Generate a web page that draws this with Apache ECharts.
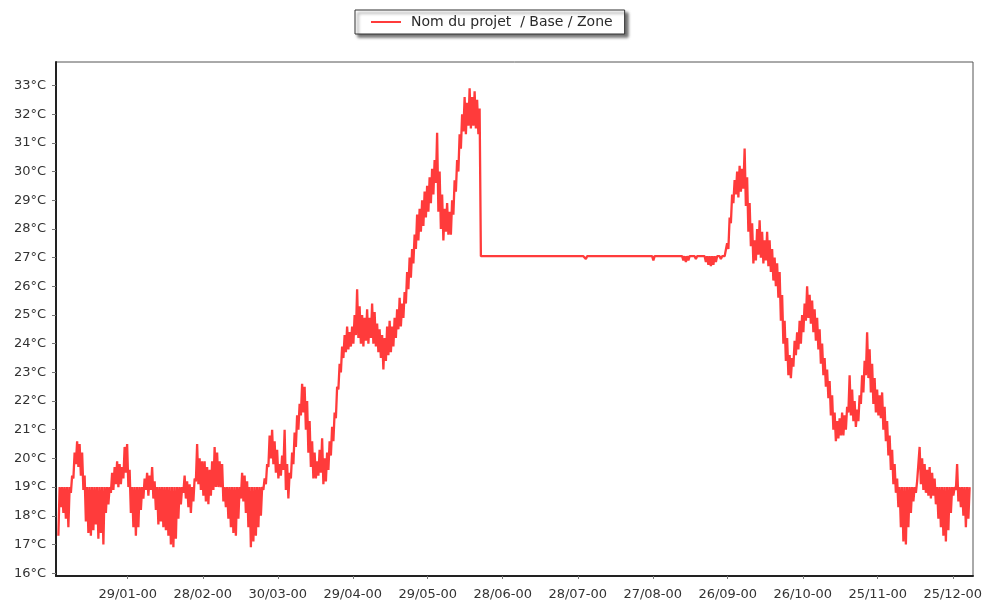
<!DOCTYPE html>
<html>
<head>
<meta charset="utf-8">
<script src="https://cdn.jsdelivr.net/npm/echarts@6/dist/echarts.min.js"></script>
<style>
  html, body { margin: 0; padding: 0; background: #ffffff; }
  #chart { width: 989px; height: 605px; }
</style>
</head>
<body>
<div id="chart"></div>
<script>
// Series name shown in the legend
const seriesName = 'Nom du projet  / Base / Zone';

// Day-of-year positions of the date ticks and their labels
const tickDays = [28, 58, 88, 118, 148, 178, 208, 238, 268, 298, 328, 358];
const tickLabels = ['29/01-00', '28/02-00', '30/03-00', '29/04-00', '29/05-00', '28/06-00',
                    '28/07-00', '27/08-00', '26/09-00', '26/10-00', '25/11-00', '25/12-00'];

// Temperature ticks (°C)
const tempTicks = [16, 17, 18, 19, 20, 21, 22, 23, 24, 25, 26, 27, 28, 29, 30, 31, 32, 33];

// Daily maximum temperature (°C), day 0 = 1 January
const dailyHigh = [
  19.0,19.0,19.0,19.0,19.0,19.4,20.2,20.6,20.5,20.2,   // 0-9
  19.4,19.0,19.0,19.0,19.0,19.0,19.0,19.0,19.0,19.0,   // 10-19
  19.0,19.5,19.7,19.9,19.8,19.7,20.4,20.5,19.6,19.0,   // 20-29
  19.0,19.0,19.0,19.0,19.3,19.5,19.4,19.7,19.2,19.0,   // 30-39
  19.0,19.0,19.0,19.0,19.0,19.0,19.0,19.0,19.0,19.0,   // 40-49
  19.4,19.2,19.1,19.0,19.3,20.5,20.0,19.9,19.9,19.7,   // 50-59
  19.6,19.9,20.4,20.2,19.9,19.8,19.0,19.0,19.0,19.0,   // 60-69
  19.0,19.0,19.0,19.5,19.4,19.2,19.0,19.0,19.0,19.0,   // 70-79
  19.0,19.0,19.3,19.8,20.8,21.0,20.6,20.3,19.8,20.1,   // 80-89
  21.0,19.8,19.5,20.2,20.9,21.5,21.9,22.6,22.5,22.0,   // 90-99
  21.3,20.6,20.2,19.9,20.3,20.7,20.0,20.2,20.6,21.1,   // 100-109
  21.6,22.5,23.3,23.9,24.3,24.6,24.4,24.6,25.0,25.9,   // 110-119
  25.3,25.0,24.9,25.2,24.9,25.4,25.1,24.7,24.5,24.3,   // 120-129
  24.2,24.6,24.8,24.6,24.9,25.2,25.6,25.4,25.8,26.5,   // 130-139
  27.0,27.3,27.8,28.5,28.7,29.0,29.3,29.5,29.8,30.1,   // 140-149
  30.4,31.35,30.0,29.2,28.7,28.9,28.6,29.0,29.7,30.4,  // 150-159
  31.3,32.0,32.6,32.4,32.9,32.6,32.8,32.5,32.2,27.05,  // 160-169
  27.05,27.05,27.05,27.05,27.05,27.05,27.05,27.05,27.05,27.05, // 170-179
  27.05,27.05,27.05,27.05,27.05,27.05,27.05,27.05,27.05,27.05, // 180-189
  27.05,27.05,27.05,27.05,27.05,27.05,27.05,27.05,27.05,27.05, // 190-199
  27.05,27.05,27.05,27.05,27.05,27.05,27.05,27.05,27.05,27.05, // 200-209
  27.05,27.05,27.05,27.05,27.05,27.05,27.05,27.05,27.05,27.05, // 210-219
  27.05,27.05,27.05,27.05,27.05,27.05,27.05,27.05,27.05,27.05, // 220-229
  27.05,27.05,27.05,27.05,27.05,27.05,27.05,27.05,27.05,27.05, // 230-239
  27.05,27.05,27.05,27.05,27.05,27.05,27.05,27.05,27.05,27.05, // 240-249
  27.05,27.05,27.05,27.05,27.05,27.05,27.05,27.05,27.05,27.05, // 250-259
  27.05,27.05,27.05,27.05,27.05,27.05,27.05,27.5,28.4,29.2,    // 260-269
  29.7,30.0,30.2,30.1,30.8,29.8,28.9,28.2,27.6,28.0,   // 270-279
  28.3,27.9,27.6,27.9,27.6,27.3,27.0,26.8,26.5,25.7,   // 280-289
  24.8,24.2,23.6,23.5,24.1,24.4,24.8,25.0,25.4,26.0,   // 290-299
  25.7,25.5,25.2,24.9,24.5,24.0,23.5,23.1,22.7,22.2,   // 300-309
  21.6,21.3,21.4,21.6,21.5,21.8,22.9,22.4,22.0,21.7,   // 310-319
  22.2,22.9,23.4,24.4,23.8,23.3,22.8,22.4,22.2,22.3,   // 320-329
  21.8,21.3,20.8,20.3,19.8,19.3,19.0,19.0,19.0,19.0,   // 330-339
  19.0,19.0,19.0,19.2,20.4,20.0,19.8,19.6,19.7,19.5,   // 340-349
  19.3,19.0,19.0,19.0,19.0,19.0,19.0,19.0,19.0,19.8,   // 350-359
  19.0,19.0,19.0,19.0,19.0                              // 360-364
];

// Daily minimum temperature (°C)
const dailyLow = [
  17.3,18.3,18.1,17.9,17.6,18.8,19.3,19.8,19.7,19.4,   // 0-9
  18.9,17.8,17.4,17.3,17.5,17.7,17.2,17.4,17.0,18.1,   // 10-19
  18.4,18.8,18.9,19.1,19.0,19.1,19.3,19.5,19.0,18.1,   // 20-29
  17.6,17.3,17.6,18.2,18.6,18.9,18.7,18.9,18.6,18.2,   // 30-39
  17.7,17.8,17.6,17.5,17.3,17.0,16.9,17.2,17.9,18.4,   // 40-49
  18.8,18.6,18.3,18.1,18.5,19.2,19.1,18.9,18.7,18.5,   // 50-59
  18.4,18.7,18.9,19.0,19.0,19.0,18.5,18.3,17.9,17.6,   // 60-69
  17.4,17.3,17.9,18.6,18.5,18.1,17.6,16.9,17.1,17.3,   // 70-79
  17.6,18.0,18.9,19.1,19.7,20.0,19.8,19.5,19.3,19.4,   // 80-89
  19.6,18.9,18.6,19.3,19.8,20.4,21.0,21.5,21.6,21.0,   // 90-99
  20.2,19.7,19.3,19.3,19.4,19.5,19.1,19.2,19.6,20.1,   // 100-109
  20.6,21.4,22.4,23.0,23.5,23.7,23.8,23.9,24.0,24.3,   // 110-119
  24.2,24.0,23.9,24.1,24.0,24.2,24.0,23.9,23.7,23.5,   // 120-129
  23.1,23.4,23.6,23.7,23.9,24.2,24.5,24.6,24.9,25.4,   // 130-139
  25.9,26.3,26.8,27.3,27.6,27.9,28.1,28.4,28.6,28.9,   // 140-149
  29.2,29.6,28.6,28.0,27.6,27.9,27.8,27.8,28.5,29.3,   // 150-159
  30.0,30.8,31.4,31.3,31.6,31.5,31.6,31.5,31.3,27.05,  // 160-169
  27.05,27.05,27.05,27.05,27.05,27.05,27.05,27.05,27.05,27.05, // 170-179
  27.05,27.05,27.05,27.05,27.05,27.05,27.05,27.05,27.05,27.05, // 180-189
  27.05,27.05,27.05,27.05,27.05,27.05,27.05,27.05,27.05,27.05, // 190-199
  27.05,27.05,27.05,27.05,27.05,27.05,27.05,27.05,27.05,27.05, // 200-209
  27.05,26.95,27.05,27.05,27.05,27.05,27.05,27.05,27.05,27.05, // 210-219
  27.05,27.05,27.05,27.05,27.05,27.05,27.05,27.05,27.05,27.05, // 220-229
  27.05,27.05,27.05,27.05,27.05,27.05,27.05,27.05,26.9,27.05,  // 230-239
  27.05,27.05,27.05,27.05,27.05,27.05,27.05,27.05,27.05,27.05, // 240-249
  26.9,26.85,26.9,27.05,27.05,26.95,27.05,27.05,27.05,26.85,   // 250-259
  26.75,26.7,26.75,26.85,27.05,26.95,27.05,27.05,27.3,28.2,    // 260-269
  28.9,29.2,29.1,29.3,29.4,28.8,27.9,27.4,26.8,26.9,   // 270-279
  27.1,27.0,26.8,26.9,26.7,26.5,26.2,26.0,25.6,24.8,   // 280-289
  24.0,23.4,22.9,22.8,23.2,23.6,23.8,24.0,24.4,24.8,   // 290-299
  24.9,24.7,24.4,24.1,23.8,23.3,22.9,22.5,22.1,21.5,   // 300-309
  21.0,20.6,20.7,20.8,20.8,21.0,21.6,21.5,21.3,21.1,   // 310-319
  21.3,21.9,22.3,22.9,22.8,22.3,21.9,21.6,21.5,21.4,   // 320-329
  21.0,20.6,20.1,19.6,19.1,18.8,18.3,17.6,17.1,17.0,   // 330-339
  17.6,18.1,18.5,18.8,19.2,19.1,18.9,18.8,18.7,18.6,   // 340-349
  18.7,18.4,17.9,17.6,17.3,17.1,17.5,18.1,18.7,18.9,   // 350-359
  18.5,18.3,18.0,17.6,17.9                              // 360-364
];

// Each day contributes its low (night) then its high (afternoon)
const points = [];
for (let d = 0; d < dailyHigh.length; d++) {
  points.push([d + 0.25, dailyLow[d]]);
  points.push([d + 0.75, dailyHigh[d]]);
}

const FONT = 'DejaVu Sans';
const RED = '#ff3b3b';

const chart = echarts.init(document.getElementById('chart'), null, { renderer: 'canvas' });
chart.setOption({
  animation: false,
  backgroundColor: '#ffffff',
  legend: {
    data: [seriesName],
    left: 355,
    top: 10,
    padding: [5, 12, 5, 16],
    backgroundColor: '#ffffff',
    borderColor: '#333333',
    borderWidth: 1,
    shadowColor: 'rgba(0,0,0,0.55)',
    shadowBlur: 3,
    shadowOffsetX: 3,
    shadowOffsetY: 3,
    itemWidth: 30,
    itemHeight: 2,
    icon: 'rect',
    textStyle: { fontFamily: FONT, fontSize: 14, color: '#2a2a2a', padding: [0, 0, 0, 5] }
  },
  grid: {
    left: 56,
    right: 16,
    top: 62,
    bottom: 29,
    show: true,
    borderColor: '#555555',
    borderWidth: 1,
    backgroundColor: '#ffffff'
  },
  xAxis: {
    type: 'value',
    min: -0.7,
    max: 366.1,
    axisLine: { show: true, onZero: false, lineStyle: { color: '#222222', width: 2 } },
    axisTick: { show: true, length: 3, customValues: tickDays, lineStyle: { color: '#777777' } },
    axisLabel: {
      customValues: tickDays,
      formatter: (v) => tickLabels[tickDays.indexOf(Math.round(v))] || '',
      fontFamily: FONT, fontSize: 13, color: '#333333', margin: 12
    },
    splitLine: { show: false }
  },
  yAxis: {
    type: 'value',
    min: 15.9,
    max: 33.82,
    axisLine: { show: true, onZero: false, lineStyle: { color: '#222222', width: 2 } },
    axisTick: { show: true, length: 4, customValues: tempTicks, lineStyle: { color: '#777777' } },
    axisLabel: {
      customValues: tempTicks,
      formatter: (v) => Math.round(v) + '°C',
      fontFamily: FONT, fontSize: 13, color: '#333333', margin: 10
    },
    splitLine: { show: false }
  },
  series: [{
    name: seriesName,
    type: 'line',
    data: points,
    showSymbol: false,
    symbol: 'none',
    sampling: false,
    lineStyle: { color: RED, width: 2.3 },
    itemStyle: { color: RED },
    emphasis: { disabled: true }
  }]
});
</script>
</body>
</html>
